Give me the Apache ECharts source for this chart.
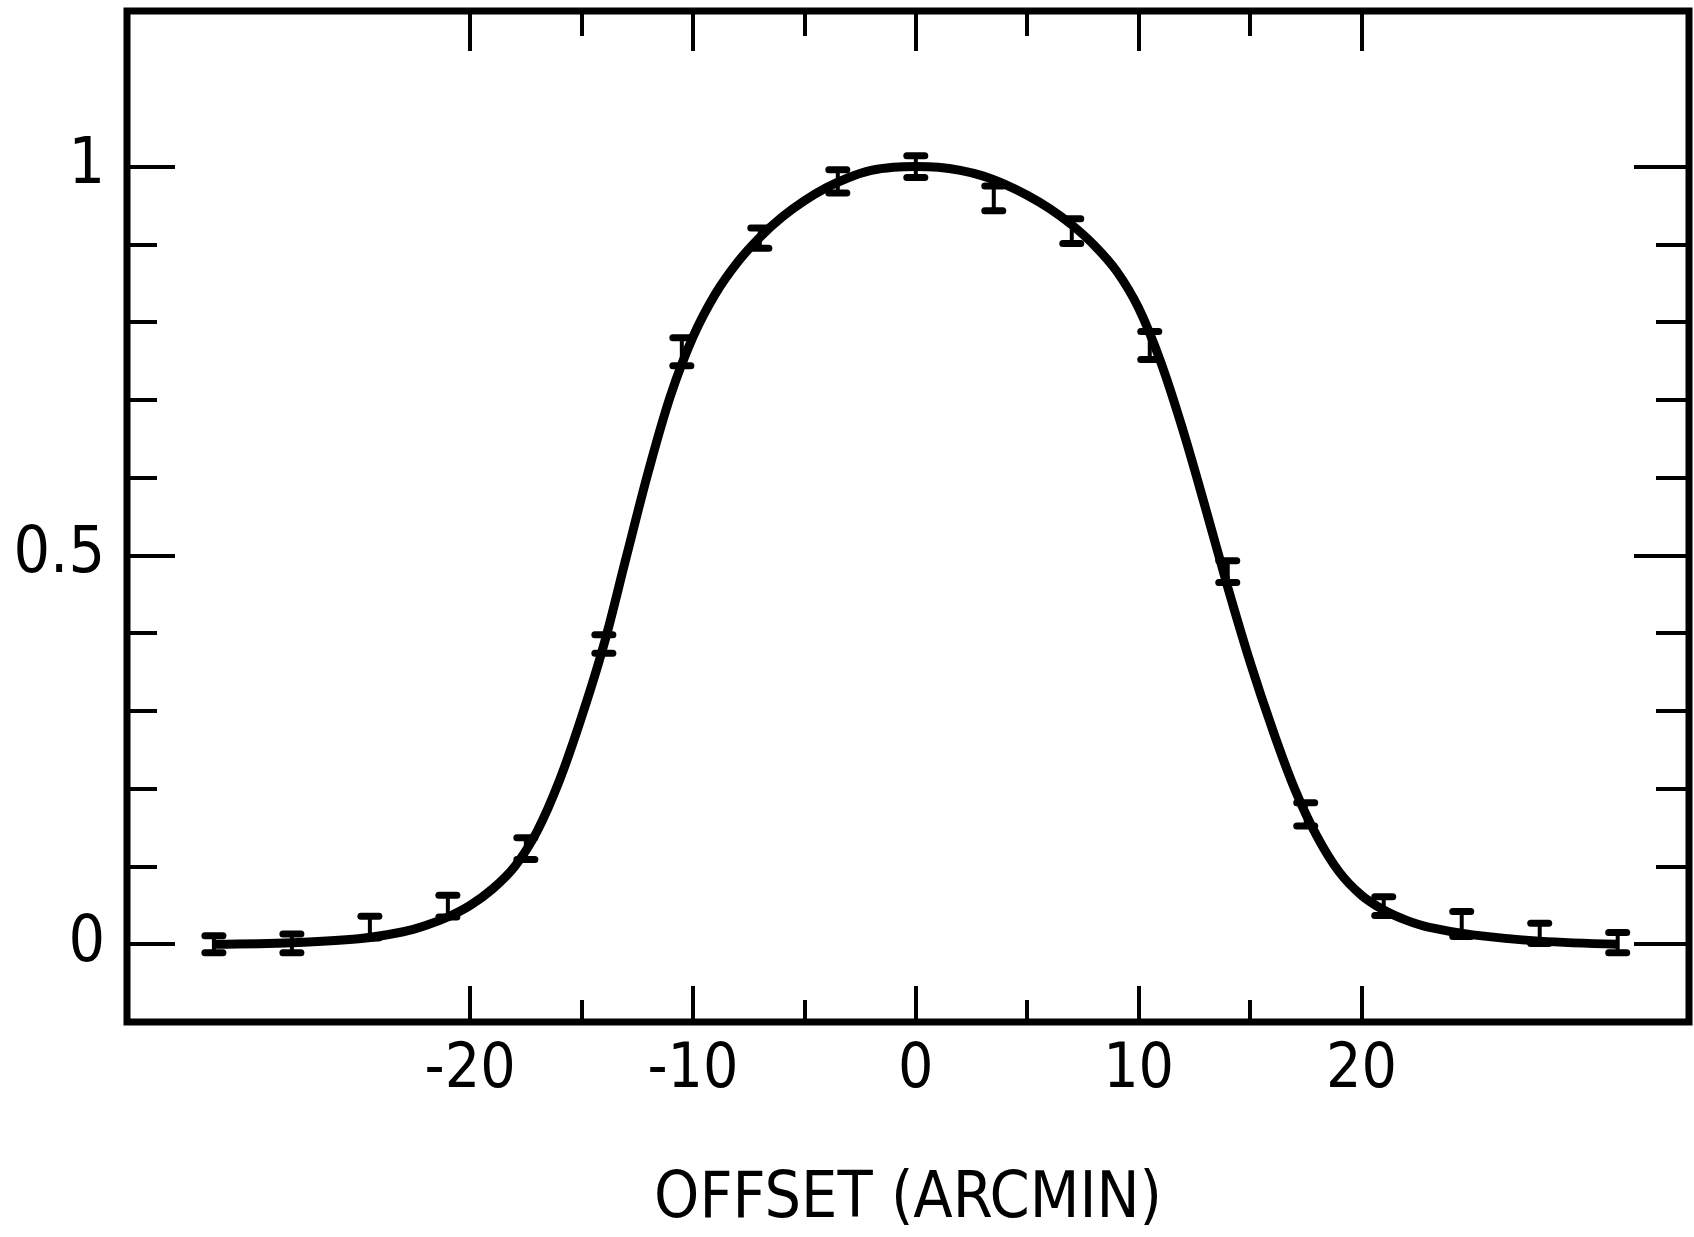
<!DOCTYPE html>
<html>
<head>
<meta charset="utf-8">
<script src="https://cdn.jsdelivr.net/npm/echarts@6/dist/echarts.min.js"></script>
<style>
html,body{margin:0;padding:0;background:#fff;}
#chart{width:1694px;height:1237px;}
</style>
</head>
<body>
<div id="chart"></div>
<script>
// ---- data ----
const pointX = [-31.5,-28,-24.5,-21,-17.5,-14,-10.5,-7,-3.5,0,3.5,7,10.5,14,17.5,21,24.5,28,31.5];
const pointY = [0.000,0.001,0.022,0.049,0.123,0.386,0.762,0.908,0.981,1.000,0.959,0.917,0.770,0.479,0.167,0.049,0.026,0.014,0.002];
const pointErr = [0.011,0.012,0.014,0.014,0.014,0.012,0.018,0.013,0.015,0.014,0.016,0.016,0.018,0.014,0.015,0.012,0.016,0.013,0.013];

const curveX = [-31.5,-28,-25,-23,-22,-21,-20,-19,-18,-17,-16,-15,-14,-13,-12,-11,-10,-9,-8,-7,-6,-5,-4,-3,-2,-1,0,1,2,3,4,5,6,7,8,9,10,11,12,13,14,15,16,17,18,19,20,21,22,23,25,28,31.5];
const curveY = [0.000,0.002,0.007,0.016,0.024,0.035,0.050,0.071,0.100,0.145,0.210,0.292,0.385,0.497,0.608,0.706,0.781,0.836,0.877,0.909,0.935,0.956,0.973,0.986,0.995,0.999,1.000,0.999,0.995,0.988,0.977,0.963,0.946,0.925,0.899,0.866,0.818,0.748,0.660,0.561,0.459,0.363,0.277,0.200,0.139,0.093,0.063,0.044,0.031,0.022,0.012,0.004,0.000];

const xMajorTicks = [-20,-10,0,10,20];
const xMinorTicks = [-15,-5,5,15];
const yMajorTicks = [0,0.5,1];
const yMinorTicks = [0.1,0.2,0.3,0.4,0.6,0.7,0.8,0.9];
const xTitle = 'OFFSET (ARCMIN)';

// ---- chart ----
const FONT = "'Liberation Sans Narrow','DejaVu Sans Condensed','Roboto Condensed',sans-serif";
const X_MIN = -35.4, X_MAX = 34.7, Y_MIN = -0.1, Y_MAX = 1.2;

function xAx(pos, ticks, len, labels, extra) {
  return Object.assign({
    type: 'value', position: pos, min: X_MIN, max: X_MAX,
    axisLine: {show: false, onZero: false},
    splitLine: {show: false},
    axisTick: {show: true, inside: true, length: len, customValues: ticks,
      lineStyle: {color: '#000', width: 4}},
    axisLabel: labels ? {show: true, customValues: labels, color: '#000',
      fontFamily: FONT, fontSize: 62, margin: 18,
      formatter: v => String(v)} : {show: false}
  }, extra || {});
}
function yAx(pos, ticks, len, labels) {
  return {
    type: 'value', position: pos, min: Y_MIN, max: Y_MAX,
    axisLine: {show: false, onZero: false},
    splitLine: {show: false},
    axisTick: {show: true, inside: true, length: len, customValues: ticks,
      lineStyle: {color: '#000', width: 4}},
    axisLabel: labels ? {show: true, customValues: labels, color: '#000',
      fontFamily: FONT, fontSize: 64, margin: 22,
      formatter: v => String(v)} : {show: false}
  };
}

const errData = pointX.map((x, i) => [x, pointY[i] - pointErr[i], pointY[i] + pointErr[i]]);
const curveData = curveX.map((x, i) => [x, curveY[i]]);

const chart = echarts.init(document.getElementById('chart'));
chart.setOption({
  animation: false,
  backgroundColor: '#fff',
  grid: {left: 127, right: 5, top: 11, bottom: 199, show: true,
    borderColor: '#000', borderWidth: 7, backgroundColor: 'transparent'},
  xAxis: [
    xAx('bottom', xMajorTicks, 36, xMajorTicks, {
      name: xTitle, nameLocation: 'middle', nameGap: 146,
      nameTextStyle: {color: '#000', fontFamily: FONT, fontSize: 64}}),
    xAx('bottom', xMinorTicks, 22, null),
    xAx('top', xMajorTicks, 40, null),
    xAx('top', xMinorTicks, 25, null)
  ],
  yAxis: [
    yAx('left', yMajorTicks, 48, yMajorTicks),
    yAx('left', yMinorTicks, 30, null),
    yAx('right', yMajorTicks, 55, null),
    yAx('right', yMinorTicks, 33, null)
  ],
  series: [
    {
      type: 'line', xAxisIndex: 0, yAxisIndex: 0,
      data: curveData, smooth: 0.35, symbol: 'none',
      lineStyle: {color: '#000', width: 9}, z: 3
    },
    {
      type: 'custom', xAxisIndex: 0, yAxisIndex: 0,
      data: errData, z: 4,
      renderItem: function (params, api) {
        const x = api.value(0);
        const lo = api.coord([x, api.value(1)]);
        const hi = api.coord([x, api.value(2)]);
        const hw = 9;
        const st = {stroke: '#000', lineWidth: 4};
        const cap = {stroke: '#000', lineWidth: 7, lineCap: 'round'};
        return {type: 'group', children: [
          {type: 'line', shape: {x1: lo[0], y1: lo[1], x2: hi[0], y2: hi[1]}, style: st},
          {type: 'line', shape: {x1: lo[0] - hw, y1: lo[1], x2: lo[0] + hw, y2: lo[1]}, style: cap},
          {type: 'line', shape: {x1: hi[0] - hw, y1: hi[1], x2: hi[0] + hw, y2: hi[1]}, style: cap}
        ]};
      }
    }
  ]
});
</script>
</body>
</html>
